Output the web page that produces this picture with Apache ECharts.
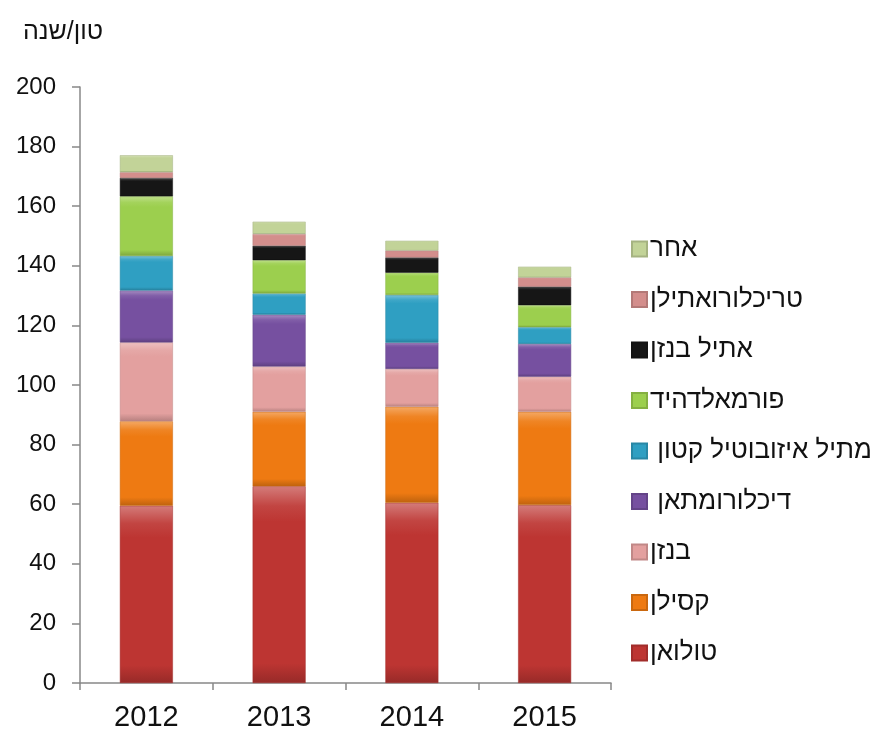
<!DOCTYPE html>
<html><head><meta charset="utf-8">
<script src="https://cdn.jsdelivr.net/npm/echarts@6/dist/echarts.min.js"></script>
<style>html,body{margin:0;padding:0;background:#fff}#c{width:883px;height:734px}</style>
</head><body><div id="c"></div>
<script>
const years = ['2012','2013','2014','2015'];
const seriesNames = ['טולואן','קסילן','בנזן',' דיכלורומתאן',' מתיל איזובוטיל קטון','פורמאלדהיד','אתיל בנזן','טריכלורואתילן','אחר'];
const toluene      = [59.5, 66, 60.5, 59.7];
const xylene       = [28.3, 25, 32.2, 31.3];
const benzene      = [26.5, 15.2, 12.7, 11.8];
const dcm          = [17.4, 17.4, 8.8, 11];
const mibk         = [11.6, 7.1, 16, 5.6];
const formaldehyde = [20, 11.2, 7.5, 7.4];
const ethylbenzene = [6.2, 4.8, 5.1, 6.2];
const tce          = [1.9, 4.0, 2.3, 3.1];
const other        = [5.7, 4.1, 3.3, 3.6];
const yTicks = [0,20,40,60,80,100,120,140,160,180,200];

const values = [toluene, xylene, benzene, dcm, mibk, formaldehyde, ethylbenzene, tce, other];
const colors = ['#BD3532','#EE7A12','#E3A09F','#7650A0','#2F9FC2','#9CCF4E','#161616','#D38E8C','#C2D398'];

function shade(hex, f){
  const n = parseInt(hex.slice(1),16);
  let r=(n>>16)&255,g=(n>>8)&255,b=n&255;
  if(f>0){r+=(255-r)*f;g+=(255-g)*f;b+=(255-b)*f;}else{r*=1+f;g*=1+f;b*=1+f;}
  return 'rgb('+Math.round(r)+','+Math.round(g)+','+Math.round(b)+')';
}
function grad(c){
  return new echarts.graphic.LinearGradient(0,0,0,1,[
    {offset:0,color:shade(c,0.35)},
    {offset:0.1,color:shade(c,0.08)},
    {offset:0.18,color:c},
    {offset:0.9,color:c},
    {offset:1,color:shade(c,-0.2)}
  ]);
}

const font = 'Liberation Sans, Arial, sans-serif';
const series = seriesNames.map((n,i)=>({
  name:n, type:'bar', stack:'total', barWidth:53,
  data: values[i],
  itemStyle:{color:grad(colors[i]), borderColor:shade(colors[i],-0.15), borderWidth:0.5}
}));

const chart = echarts.init(document.getElementById('c'));
chart.setOption({
  animation:false,
  backgroundColor:'#fff',
  color: colors,
  title:{text:'טון/שנה', left:18, top:15, textStyle:{fontFamily:font, fontSize:25, fontWeight:'normal', color:'#111'}},
  grid:{left:80, right:272, top:87, bottom:51},
  legend:{
    orient:'vertical', left:626, top:231, itemGap:24.5, itemWidth:15, itemHeight:15,
    data: seriesNames.slice().reverse().map((n,i)=>({name:n, itemStyle:{color:colors[8-i]}})),
    icon:'rect',
    textStyle:{fontFamily:font, fontSize:26, color:'#111', padding:[0,0,0,-2]}
  },
  xAxis:{
    type:'category', data:years,
    axisLine:{lineStyle:{color:'#888', width:1.5}},
    axisTick:{show:true, length:7, lineStyle:{color:'#888', width:1.5}},
    axisLabel:{fontFamily:font, fontSize:29, color:'#111', margin:20}
  },
  yAxis:{
    type:'value', min:yTicks[0], max:yTicks[yTicks.length-1], interval:20,
    splitLine:{show:false},
    axisLine:{show:true, lineStyle:{color:'#888', width:1.5}},
    axisTick:{show:true, length:8, lineStyle:{color:'#888', width:1.5}},
    axisLabel:{fontFamily:font, fontSize:24, color:'#111', margin:24}
  },
  series: series
});
</script></body></html>
